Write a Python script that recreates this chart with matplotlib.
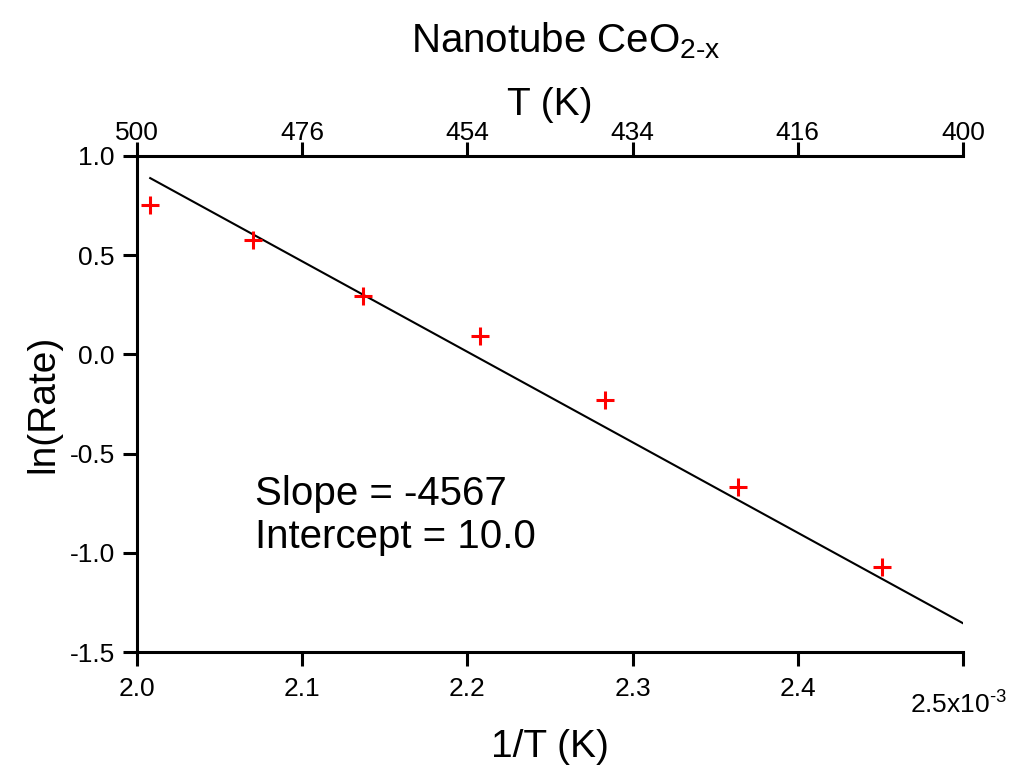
import numpy as np
import matplotlib
matplotlib.use("Agg")
import matplotlib.pyplot as plt

plt.rcParams['font.family'] = ['Liberation Sans', 'DejaVu Sans']
plt.rcParams['mathtext.fontset'] = 'custom'
plt.rcParams['mathtext.rm'] = 'Liberation Sans'
plt.rcParams['mathtext.it'] = 'Liberation Sans:italic'

# data (x in units of 1e-3 1/K)
inv_T = [2.008, 2.0700, 2.1367, 2.2075, 2.2831, 2.3641, 2.4510]
ln_rate = [0.753, 0.577, 0.294, 0.093, -0.230, -0.668, -1.070]

# fitted line as drawn
fit_slope = -4560.0
fit_intercept = 10.045
fit_range = [2.008, 2.5]

bottom_ticks = [2.0, 2.1, 2.2, 2.3, 2.4, 2.5]
bottom_labels = ['2.0', '2.1', '2.2', '2.3', '2.4', '']
top_labels = ['500', '476', '454', '434', '416', '400']
y_ticks = [-1.5, -1.0, -0.5, 0.0, 0.5, 1.0]

fig = plt.figure(figsize=(10.17, 7.65), dpi=100)
ax = fig.add_axes([0.1347, 0.1477, 0.8122, 0.6484])

ax.plot(inv_T, ln_rate, linestyle='none', marker='+', color='#ff0000',
        markersize=13, markeredgewidth=2.2, zorder=3)
fx = np.array(fit_range)
ax.plot(fx, fit_intercept + fit_slope * fx * 1e-3, color='black', lw=1.5)

ax.set_xlim(2.0, 2.5)
ax.set_ylim(-1.5, 1.0)
ax.set_xticks(bottom_ticks)
ax.set_xticklabels(bottom_labels)
ax.set_yticks(y_ticks)
ax.set_yticklabels(['%.1f' % v for v in y_ticks])

for s in ['left', 'bottom']:
    ax.spines[s].set_linewidth(2.2)
ax.spines['right'].set_visible(False)
ax.spines['top'].set_visible(False)
ax.tick_params(axis='x', direction='out', length=10, width=2.2, labelsize=19, pad=8)
ax.tick_params(axis='y', direction='out', length=10, width=2.2, labelsize=19, pad=6)

ax.set_xlabel('1/T (K)', fontsize=28, labelpad=20)
ax.set_ylabel('ln(Rate)', fontsize=28, labelpad=6)

# exponent label at the end of the bottom axis
ax.text(0.995, -0.08, r'2.5x10$^{\mathregular{\text{-}3}}$', transform=ax.transAxes,
        ha='center', va='top', fontsize=19)

# top axis: temperature
top = ax.twiny()
top.set_xlim(ax.get_xlim())
top.set_xticks(bottom_ticks)
top.set_xticklabels(top_labels)
for s in ['left', 'right', 'bottom']:
    top.spines[s].set_visible(False)
top.spines['top'].set_linewidth(2.2)
top.tick_params(axis='x', direction='out', length=10, width=2.2, labelsize=19, pad=-2)
top.set_xlabel('T (K)', fontsize=28, labelpad=4)

fig.text(0.556, 0.947, r'Nanotube CeO$_{\mathregular{2\text{-}x}}$', ha='center', va='center', fontsize=29)

ax.text(0.1429, 0.2964, 'Slope = -4567', transform=ax.transAxes, fontsize=29, va='baseline')
ax.text(0.1429, 0.2097, 'Intercept = 10.0', transform=ax.transAxes, fontsize=29, va='baseline')

fig.savefig('out.png', dpi=100)
